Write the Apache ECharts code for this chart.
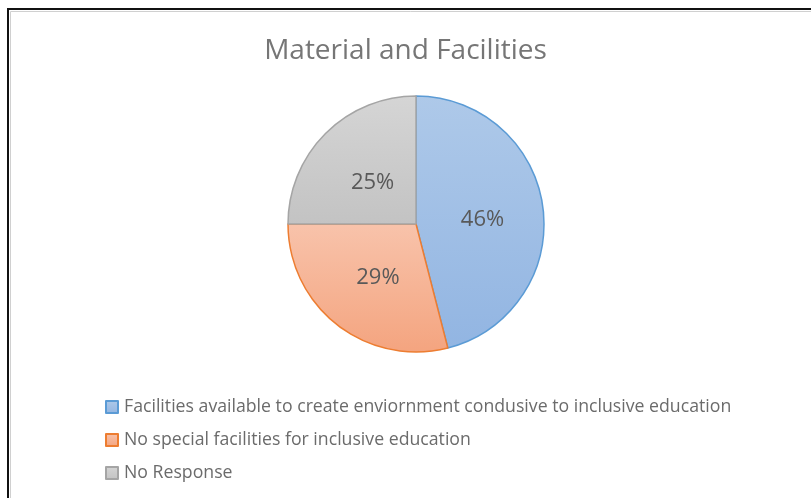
<!DOCTYPE html>
<html>
<head>
<meta charset="utf-8">
<script src="https://cdn.jsdelivr.net/npm/echarts@6/dist/echarts.min.js"></script>
<style>
  html, body { margin: 0; padding: 0; background: #ffffff; }
  #chart { width: 811px; height: 498px; }
</style>
</head>
<body>
<div id="chart"></div>
<script>
// Survey answers on material and facilities for inclusive education
const categories = [
  'Facilities available to create enviornment condusive to inclusive education',
  'No special facilities for inclusive education',
  'No Response'
];
const shares = [46, 29, 25];

// Slice styling: light-to-darker vertical gradient with a stronger outline
const fillTop = ['#aec9e9', '#f8c3ab', '#d5d5d5'];
const fillBottom = ['#92b5e2', '#f4a47f', '#c3c3c3'];
const outline = ['#5b9bd5', '#ed7d31', '#a5a5a5'];
// Small nudges for the percentage labels inside each slice
const labelNudge = [[0, 4], [3, 1], [4, 6]];

const FONT = '"Open Sans", Lato, sans-serif';

const chart = echarts.init(document.getElementById('chart'), null, { renderer: 'canvas' });

const data = categories.map((name, i) => ({
  name: name,
  value: shares[i],
  itemStyle: {
    color: new echarts.graphic.LinearGradient(0, 0, 0, 1, [
      { offset: 0, color: fillTop[i] },
      { offset: 1, color: fillBottom[i] }
    ]),
    borderColor: outline[i],
    borderWidth: 1.5
  },
  label: { offset: labelNudge[i] }
}));

chart.setOption({
  backgroundColor: '#ffffff',
  animation: false,
  title: {
    text: 'Material and Facilities',
    left: 'center',
    top: 32,
    textStyle: {
      fontFamily: FONT,
      fontWeight: 'normal',
      fontSize: 28,
      color: '#767676'
    }
  },
  legend: {
    orient: 'vertical',
    left: 105,
    top: 398,
    padding: 0,
    itemWidth: 12,
    itemHeight: 12,
    itemGap: 15,
    icon: 'rect',
    textStyle: {
      fontFamily: FONT,
      fontSize: 17.7,
      color: '#6b6b6b',
      padding: [0, 0, 0, 1]
    }
  },
  graphic: [
    {
      type: 'polyline',
      shape: { points: [[8, 498], [8, 9], [811, 9]] },
      style: { stroke: '#111111', lineWidth: 2, fill: null }
    },
    {
      type: 'polyline',
      shape: { points: [[10.5, 498], [10.5, 11.5], [811, 11.5]] },
      style: { stroke: '#d0d0d0', lineWidth: 1, fill: null }
    }
  ],
  series: [{
    type: 'pie',
    center: [416, 224],
    radius: 128,
    startAngle: 90,
    clockwise: true,
    label: {
      show: true,
      position: 'inside',
      formatter: '{c}%',
      fontFamily: FONT,
      fontSize: 22,
      color: '#595959'
    },
    labelLine: { show: false },
    emphasis: { disabled: true },
    data: data
  }]
});
</script>
</body>
</html>
